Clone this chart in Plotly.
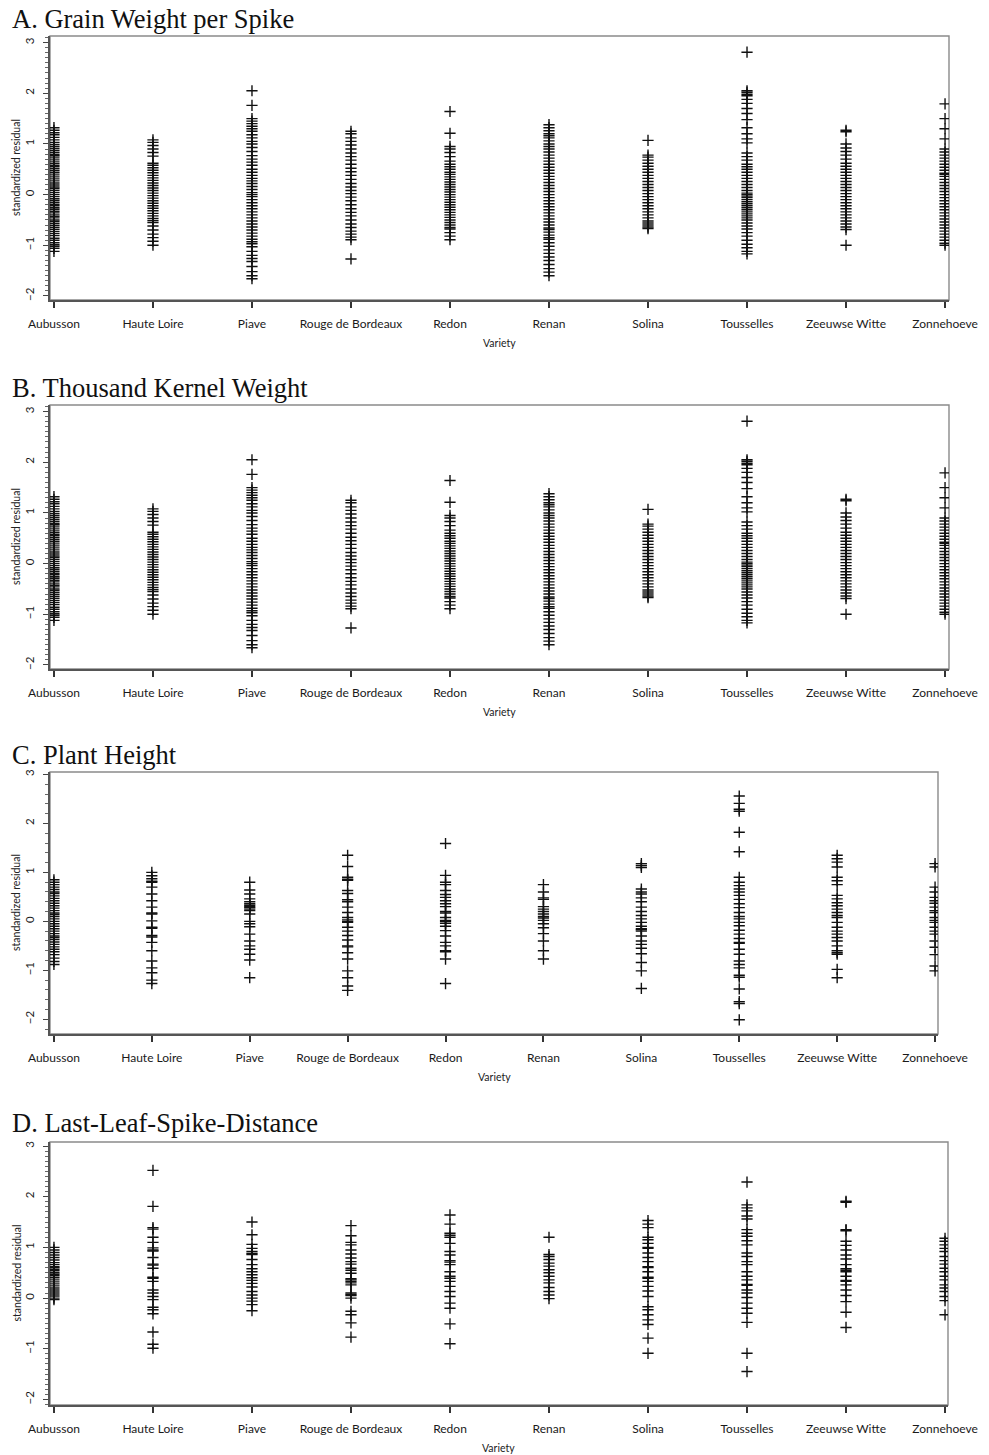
import plotly.graph_objects as go

# ---------------- data ----------------
varieties = ["Aubusson", "Haute Loire", "Piave", "Rouge de Bordeaux", "Redon",
             "Renan", "Solina", "Tousselles", "Zeeuwse Witte", "Zonnehoeve"]

panel_titles = ["A. Grain Weight per Spike", "B. Thousand Kernel Weight",
                "C. Plant Height", "D. Last-Leaf-Spike-Distance"]
x_axis_title = "Variety"
y_axis_title = "standardized residual"
y_tick_values = [-2, -1, 0, 1, 2, 3]

# A. Grain Weight per Spike
gw_aubusson = [1.32, 1.27, 1.22, 1.18, 1.13, 1.08, 1.03, 0.99, 0.95, 0.91, 0.87, 0.83, 0.79, 0.77,
               0.74, 0.70, 0.66, 0.62, 0.58, 0.55, 0.51, 0.47, 0.43, 0.39, 0.35, 0.31, 0.27, 0.23,
               0.19, 0.15, 0.12, 0.08, 0.04, 0.00, -0.04, -0.08, -0.11, -0.15, -0.19, -0.22, -0.26,
               -0.29, -0.33, -0.36, -0.40, -0.43, -0.46, -0.50, -0.53, -0.57, -0.61, -0.65, -0.69,
               -0.73, -0.77, -0.81, -0.86, -0.90, -0.95, -0.99, -1.02, -1.06, -1.12]
gw_haute_loire = [1.08, 1.03, 0.97, 0.90, 0.83, 0.76, 0.62, 0.58, 0.53, 0.48, 0.43, 0.38, 0.33, 0.28,
                  0.23, 0.18, 0.13, 0.08, 0.03, -0.02, -0.07, -0.12, -0.17, -0.22, -0.27, -0.32,
                  -0.37, -0.42, -0.47, -0.51, -0.55, -0.62, -0.70, -0.78, -0.85, -0.92, -1.00]
gw_piave = [2.05, 1.76, 1.50, 1.45, 1.40, 1.35, 1.30, 1.25, 1.18, 1.12, 1.05, 1.00, 0.93, 0.85, 0.77,
            0.70, 0.64, 0.58, 0.50, 0.44, 0.38, 0.32, 0.27, 0.22, 0.16, 0.10, 0.04, 0.00, -0.04,
            -0.10, -0.16, -0.22, -0.28, -0.34, -0.40, -0.46, -0.52, -0.58, -0.64, -0.70, -0.76,
            -0.82, -0.88, -0.93, -0.97, -1.03, -1.12, -1.20, -1.26, -1.32, -1.42, -1.52, -1.60, -1.66]
gw_rouge = [1.25, 1.20, 1.12, 1.05, 0.98, 0.90, 0.82, 0.75, 0.68, 0.60, 0.52, 0.45, 0.38, 0.30, 0.22,
            0.15, 0.08, 0.02, -0.05, -0.12, -0.20, -0.28, -0.35, -0.42, -0.50, -0.58, -0.65, -0.72,
            -0.78, -0.84, -0.89, -1.27]
gw_redon = [1.64, 1.21, 0.95, 0.90, 0.83, 0.75, 0.66, 0.60, 0.55, 0.50, 0.44, 0.40, 0.35, 0.30, 0.25,
            0.20, 0.15, 0.10, 0.05, 0.00, -0.05, -0.10, -0.15, -0.20, -0.25, -0.30, -0.35, -0.40,
            -0.45, -0.50, -0.55, -0.60, -0.65, -0.68, -0.75, -0.82, -0.89]
gw_renan = [1.38, 1.32, 1.26, 1.20, 1.16, 1.12, 1.06, 1.00, 0.95, 0.90, 0.84, 0.78, 0.72, 0.66, 0.60,
            0.54, 0.48, 0.42, 0.36, 0.30, 0.24, 0.18, 0.12, 0.06, 0.00, -0.06, -0.12, -0.18, -0.24,
            -0.30, -0.36, -0.42, -0.48, -0.54, -0.60, -0.66, -0.69, -0.74, -0.80, -0.85, -0.88,
            -0.95, -1.02, -1.09, -1.16, -1.23, -1.30, -1.38, -1.46, -1.53, -1.60]
gw_solina = [1.07, 0.78, 0.74, 0.68, 0.62, 0.56, 0.50, 0.44, 0.38, 0.32, 0.26, 0.20, 0.14, 0.08, 0.02,
             -0.04, -0.10, -0.16, -0.22, -0.28, -0.34, -0.40, -0.46, -0.52, -0.56, -0.60, -0.64, -0.67]
gw_tousselles = [2.81, 2.05, 2.02, 1.98, 1.95, 1.88, 1.80, 1.70, 1.60, 1.48, 1.32, 1.20, 1.10, 1.02,
                 0.82, 0.75, 0.68, 0.60, 0.55, 0.50, 0.44, 0.38, 0.32, 0.26, 0.20, 0.14, 0.08, 0.03,
                 0.00, -0.03, -0.06, -0.10, -0.14, -0.18, -0.22, -0.26, -0.30, -0.34, -0.38, -0.42,
                 -0.46, -0.50, -0.56, -0.62, -0.68, -0.75, -0.82, -0.90, -0.98, -1.05, -1.12, -1.17]
gw_zeeuwse = [1.27, 1.24, 1.00, 0.92, 0.85, 0.78, 0.70, 0.62, 0.56, 0.50, 0.44, 0.38, 0.32, 0.26, 0.20,
              0.14, 0.08, 0.02, -0.04, -0.10, -0.16, -0.22, -0.28, -0.34, -0.40, -0.46, -0.52, -0.58,
              -0.64, -0.69, -1.00]
gw_zonnehoeve = [1.79, 1.50, 1.30, 1.10, 0.90, 0.84, 0.78, 0.72, 0.66, 0.60, 0.54, 0.48, 0.42, 0.40,
                 0.36, 0.30, 0.24, 0.18, 0.12, 0.06, 0.00, -0.06, -0.12, -0.18, -0.24, -0.30, -0.36,
                 -0.42, -0.48, -0.54, -0.60, -0.66, -0.72, -0.78, -0.84, -0.90, -0.96, -1.00]

# B. Thousand Kernel Weight (the reference shows exactly the same points as panel A)
tkw_aubusson = list(gw_aubusson)
tkw_haute_loire = list(gw_haute_loire)
tkw_piave = list(gw_piave)
tkw_rouge = list(gw_rouge)
tkw_redon = list(gw_redon)
tkw_renan = list(gw_renan)
tkw_solina = list(gw_solina)
tkw_tousselles = list(gw_tousselles)
tkw_zeeuwse = list(gw_zeeuwse)
tkw_zonnehoeve = list(gw_zonnehoeve)

# C. Plant Height
ph_aubusson = [0.85, 0.80, 0.75, 0.70, 0.65, 0.60, 0.57, 0.52, 0.47, 0.42, 0.37, 0.32, 0.27, 0.22,
               0.17, 0.14, 0.10, 0.05, 0.00, -0.05, -0.10, -0.15, -0.20, -0.25, -0.30, -0.33, -0.37,
               -0.42, -0.47, -0.52, -0.57, -0.62, -0.68, -0.75, -0.82, -0.88]
ph_haute_loire = [1.00, 0.93, 0.87, 0.82, 0.80, 0.70, 0.56, 0.42, 0.29, 0.17, 0.15, 0.01, -0.12, -0.14,
                  -0.29, -0.32, -0.43, -0.60, -0.81, -0.95, -1.05, -1.20, -1.27]
ph_piave = [0.80, 0.64, 0.56, 0.46, 0.40, 0.36, 0.33, 0.30, 0.28, 0.25, 0.22, 0.15, 0.00, -0.05,
            -0.11, -0.26, -0.40, -0.50, -0.57, -0.67, -0.79, -1.15]
ph_rouge = [1.35, 1.12, 0.90, 0.86, 0.84, 0.63, 0.57, 0.44, 0.40, 0.29, 0.18, 0.08, 0.03, 0.00, -0.02,
            -0.12, -0.20, -0.29, -0.38, -0.50, -0.52, -0.64, -0.77, -1.01, -1.15, -1.32, -1.41]
ph_redon = [1.59, 0.94, 0.80, 0.75, 0.63, 0.55, 0.49, 0.42, 0.36, 0.30, 0.20, 0.17, 0.08, 0.02, 0.00,
            -0.04, -0.10, -0.19, -0.30, -0.43, -0.50, -0.60, -0.62, -0.77, -1.27]
ph_renan = [0.75, 0.60, 0.48, 0.45, 0.30, 0.25, 0.20, 0.15, 0.10, 0.07, 0.02, -0.05, -0.13, -0.25,
            -0.40, -0.60, -0.77]
ph_solina = [1.18, 1.14, 1.10, 0.66, 0.60, 0.56, 0.48, 0.40, 0.29, 0.20, 0.12, 0.05, -0.02, -0.10,
             -0.15, -0.17, -0.20, -0.30, -0.40, -0.47, -0.55, -0.66, -0.84, -1.01, -1.37]
ph_tousselles = [2.56, 2.41, 2.29, 2.25, 1.82, 1.42, 0.90, 0.80, 0.73, 0.66, 0.60, 0.53, 0.45, 0.36,
                 0.28, 0.18, 0.10, 0.05, -0.02, -0.09, -0.18, -0.26, -0.35, -0.43, -0.45, -0.57,
                 -0.67, -0.81, -0.88, -0.95, -1.10, -1.14, -1.38, -1.64, -1.68, -2.01]
ph_zeeuwse = [1.35, 1.28, 1.21, 1.11, 0.90, 0.83, 0.75, 0.53, 0.46, 0.38, 0.32, 0.25, 0.18, 0.12, 0.08,
              -0.02, -0.12, -0.20, -0.26, -0.33, -0.40, -0.50, -0.60, -0.64, -0.67, -0.98, -1.15]
ph_zonnehoeve = [1.18, 1.11, 0.70, 0.60, 0.49, 0.42, 0.37, 0.29, 0.22, 0.18, 0.08, 0.02, -0.02, -0.12,
                 -0.20, -0.26, -0.40, -0.53, -0.68, -0.91, -1.01]

# D. Last-Leaf-Spike-Distance
ld_aubusson = [1.00, 0.95, 0.90, 0.85, 0.80, 0.75, 0.70, 0.66, 0.62, 0.60, 0.57, 0.54, 0.50, 0.47,
               0.44, 0.40, 0.36, 0.32, 0.28, 0.24, 0.20, 0.16, 0.12, 0.08, 0.04, 0.00, -0.03]
ld_haute_loire = [2.52, 1.81, 1.39, 1.36, 1.20, 1.10, 0.99, 0.95, 0.93, 0.80, 0.67, 0.65, 0.59, 0.41,
                  0.39, 0.33, 0.16, 0.10, 0.03, -0.03, -0.18, -0.23, -0.31, -0.67, -0.91, -0.99]
ld_piave = [1.50, 1.25, 1.06, 0.98, 0.92, 0.88, 0.86, 0.76, 0.66, 0.58, 0.52, 0.46, 0.40, 0.35, 0.29,
            0.22, 0.13, 0.06, 0.00, -0.06, -0.13, -0.25]
ld_rouge = [1.43, 1.23, 1.10, 1.05, 0.95, 0.87, 0.79, 0.72, 0.67, 0.59, 0.55, 0.49, 0.38, 0.36, 0.33,
            0.30, 0.26, 0.10, 0.07, 0.05, 0.00, -0.26, -0.33, -0.49, -0.77]
ld_redon = [1.64, 1.46, 1.28, 1.24, 1.20, 1.08, 0.92, 0.85, 0.74, 0.71, 0.66, 0.52, 0.43, 0.39, 0.33,
            0.23, 0.13, 0.03, -0.10, -0.20, -0.51, -0.90]
ld_renan = [1.20, 0.86, 0.82, 0.76, 0.69, 0.63, 0.56, 0.50, 0.43, 0.36, 0.30, 0.21, 0.13, 0.06, -0.01]
ld_solina = [1.53, 1.46, 1.39, 1.20, 1.15, 1.08, 1.00, 0.98, 0.89, 0.80, 0.72, 0.62, 0.60, 0.52, 0.41,
             0.39, 0.33, 0.23, 0.14, 0.03, -0.17, -0.23, -0.33, -0.43, -0.52, -0.79, -1.09]
ld_tousselles = [2.29, 1.84, 1.78, 1.72, 1.62, 1.56, 1.35, 1.28, 1.22, 1.13, 1.05, 0.89, 0.82, 0.72,
                 0.66, 0.52, 0.43, 0.36, 0.27, 0.25, 0.16, 0.10, 0.01, -0.10, -0.20, -0.30, -0.48,
                 -1.09, -1.45]
ld_zeeuwse = [1.91, 1.89, 1.35, 1.33, 1.12, 1.04, 0.95, 0.85, 0.77, 0.66, 0.58, 0.55, 0.52, 0.43, 0.35,
              0.33, 0.26, 0.16, 0.05, -0.07, -0.28, -0.58]
ld_zonnehoeve = [1.18, 1.12, 1.05, 0.98, 0.92, 0.82, 0.74, 0.67, 0.59, 0.52, 0.43, 0.36, 0.26, 0.20,
                 0.13, 0.03, -0.05, -0.33]

panel_A = [gw_aubusson, gw_haute_loire, gw_piave, gw_rouge, gw_redon,
           gw_renan, gw_solina, gw_tousselles, gw_zeeuwse, gw_zonnehoeve]
panel_B = [tkw_aubusson, tkw_haute_loire, tkw_piave, tkw_rouge, tkw_redon,
           tkw_renan, tkw_solina, tkw_tousselles, tkw_zeeuwse, tkw_zonnehoeve]
panel_C = [ph_aubusson, ph_haute_loire, ph_piave, ph_rouge, ph_redon,
           ph_renan, ph_solina, ph_tousselles, ph_zeeuwse, ph_zonnehoeve]
panel_D = [ld_aubusson, ld_haute_loire, ld_piave, ld_rouge, ld_redon,
           ld_renan, ld_solina, ld_tousselles, ld_zeeuwse, ld_zonnehoeve]

# ---------------- layout (pixels in a 989 x 1455 page) ----------------
W, H = 989, 1455
panel_layout = [
    # left, right, top, bottom, y-range, x-range, minor dtick, title centre y
    dict(box=(50, 949, 36, 300), yr=(-2.08, 3.13), xr=(-0.04, 9.04), minor=0.1, ty=19),
    dict(box=(50, 949, 405, 669), yr=(-2.08, 3.13), xr=(-0.04, 9.04), minor=0.1, ty=388),
    dict(box=(50, 938, 772, 1034), yr=(-2.30, 3.05), xr=(-0.04, 9.03), minor=0.2, ty=755),
    dict(box=(50, 948, 1142, 1405), yr=(-2.11, 3.08), xr=(-0.04, 9.03), minor=0.1, ty=1123),
]
panels = [panel_A, panel_B, panel_C, panel_D]

TICK_FONT = "Lato, 'Open Sans', sans-serif"
TITLE_FONT = "'Liberation Serif', 'Times New Roman', serif"


def fx(px):
    return px / W


def fy(py):
    return 1 - py / H


fig = go.Figure()
layout = dict(width=W, height=H, margin=dict(l=0, r=0, t=0, b=0, autoexpand=False),
              paper_bgcolor="white", plot_bgcolor="white", showlegend=False,
              annotations=[], shapes=[])

for i, (data, pl, title) in enumerate(zip(panels, panel_layout, panel_titles), start=1):
    xs, ys = [], []
    for name, vals in zip(varieties, data):
        xs.extend([name] * len(vals))
        ys.extend(vals)
    fig.add_trace(go.Scatter(
        x=xs, y=ys, mode="markers",
        marker=dict(symbol="cross-thin", size=8, color="#111",
                    line=dict(width=1.4, color="#111")),
        xaxis=f"x{i}", yaxis=f"y{i}", hoverinfo="skip", showlegend=False))

    L, R, T, B = pl["box"]
    layout[f"xaxis{i}"] = dict(
        domain=[fx(L), fx(R)], anchor=f"y{i}", type="category", automargin=False,
        categoryorder="array", categoryarray=varieties, range=list(pl["xr"]),
        showline=True, linecolor="#555", linewidth=1.5, mirror=False,
        ticks="outside", ticklen=6, tickwidth=1.5, tickcolor="#333",
        showgrid=False, zeroline=False, ticklabelstandoff=6,
        tickfont=dict(family=TICK_FONT, size=12, color="#1a1a1a"))
    layout[f"yaxis{i}"] = dict(
        domain=[fy(B), fy(T)], anchor=f"x{i}", range=list(pl["yr"]), automargin=False,
        tickmode="array", tickvals=y_tick_values, tickangle=-90,
        showline=True, linecolor="#555", linewidth=1.5,
        ticks="outside", ticklen=5, tickwidth=1.2, tickcolor="#444",
        minor=dict(ticks="outside", tick0=0, dtick=pl["minor"], ticklen=3,
                   tickwidth=1, tickcolor="#666", showgrid=False),
        showgrid=False, zeroline=False, ticklabelstandoff=5,
        tickfont=dict(family=TICK_FONT, size=11.5, color="#1a1a1a"))

    layout["shapes"].append(dict(type="rect", xref="paper", yref="paper",
                                 x0=fx(L), x1=fx(R), y0=fy(B), y1=fy(T),
                                 line=dict(color="#8a8a8a", width=1.4), layer="below"))
    layout["annotations"].append(dict(
        text=title, xref="paper", yref="paper", x=fx(10), y=fy(pl["ty"]),
        xanchor="left", yanchor="middle", showarrow=False,
        font=dict(family=TITLE_FONT, size=26.5, color="#111")))
    layout["annotations"].append(dict(
        text=x_axis_title, xref="paper", yref="paper", x=fx((L + R) / 2), y=fy(B + 43),
        xanchor="center", yanchor="middle", showarrow=False,
        font=dict(family=TICK_FONT, size=10.5, color="#222")))
    layout["annotations"].append(dict(
        text=y_axis_title, xref="paper", yref="paper", x=fx(16), y=fy((T + B) / 2),
        xanchor="center", yanchor="middle", showarrow=False, textangle=-90,
        font=dict(family=TICK_FONT, size=10.5, color="#222")))

fig.update_layout(**layout)
fig.write_html("out.html", config={"displayModeBar": False},
               post_script="document.body.style.margin='0';document.body.style.overflow='hidden';")
